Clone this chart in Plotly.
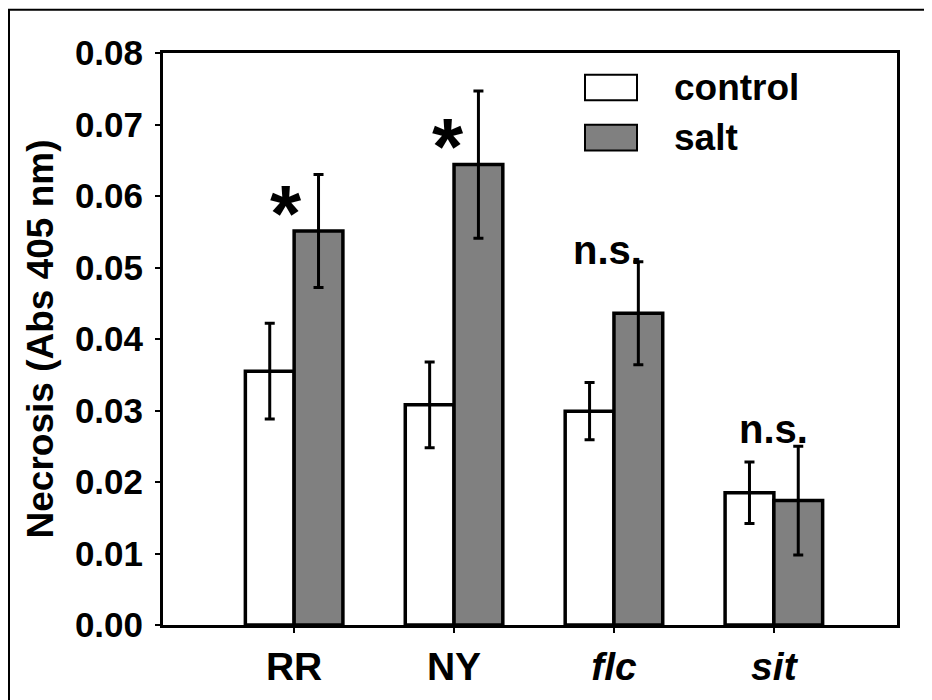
import plotly.graph_objects as go

categories = ["RR", "NY", "flc", "sit"]
tick_labels = ["<b>RR</b>", "<b>NY</b>", "<b><i>flc</i></b>", "<b><i>sit</i></b>"]
series_names = ["control", "salt"]
control_vals = [0.0355, 0.0308, 0.0299, 0.0185]
control_err = [0.0067, 0.0060, 0.0040, 0.0043]
salt_vals = [0.0551, 0.0644, 0.0436, 0.0174]
salt_err = [0.0079, 0.0103, 0.0072, 0.0076]
sig_labels = ["*", "*", "n.s.", "n.s."]
y_ticks = [0.00, 0.01, 0.02, 0.03, 0.04, 0.05, 0.06, 0.07, 0.08]

FONT = "Liberation Sans, Arial, sans-serif"
colors = ["#ffffff", "#808080"]

# figure sized to sit inside the page body margin (8px)
FW, FH = 924, 692
L, T, W, H = 155, 45, 734, 581

fig = go.Figure()
for name, vals, errs, col in [(series_names[0], control_vals, control_err, colors[0]),
                              (series_names[1], salt_vals, salt_err, colors[1])]:
    fig.add_trace(go.Bar(
        name=name, x=categories, y=vals,
        marker=dict(color=col, line=dict(color="black", width=3.5)),
        error_y=dict(type="data", array=errs, visible=True, color="black",
                     thickness=3, width=5),
        showlegend=False,
    ))

# significance labels
sig_xshift = [-8, -6, -6, 0]
sig_yshift = [18, 18, 12, 17]
for i, (cat, lab) in enumerate(zip(categories, sig_labels)):
    if lab == "*":
        fig.add_annotation(x=cat, y=salt_vals[i], xref="x", yref="y", text="<b>*</b>",
                           showarrow=False, xshift=sig_xshift[i], yshift=sig_yshift[i],
                           font=dict(family=FONT, size=80, color="black"))
    else:
        top = max(salt_vals[i] + salt_err[i], control_vals[i] + control_err[i])
        fig.add_annotation(x=cat, y=top, xref="x", yref="y", text="<b>n.s.</b>",
                           showarrow=False, xshift=sig_xshift[i], yshift=sig_yshift[i],
                           font=dict(family=FONT, size=40, color="black"))

def px2paper(px, py):
    # px, py are page coordinates; figure starts at page (8, 8)
    fx, fy = px - 8, py - 8
    return (fx - L) / W, (T + H - fy) / H

# custom legend (boxes + labels)
for j, (name, col) in enumerate(zip(series_names, colors)):
    y0 = 75 + j * 51
    x0p, y0p = px2paper(585, y0)
    x1p, y1p = px2paper(637, y0 + 26)
    fig.add_shape(type="rect", xref="paper", yref="paper", x0=x0p, x1=x1p, y0=y1p, y1=y0p,
                  fillcolor=col, line=dict(color="black", width=2))
    tx, ty = px2paper(672, y0 + 13)
    fig.add_annotation(x=tx, y=ty, xref="paper", yref="paper", text="<b>%s</b>" % name,
                       showarrow=False, xanchor="left", yanchor="middle",
                       font=dict(family=FONT, size=37, color="black"))

# outer border
bx0, by0 = px2paper(9, 9)
bx1, by1 = px2paper(929, 720)
fig.add_shape(type="rect", xref="paper", yref="paper", x0=bx0, x1=bx1, y0=by1, y1=by0,
              line=dict(color="black", width=2), fillcolor="rgba(0,0,0,0)")

fig.update_layout(
    width=FW, height=FH,
    margin=dict(l=L, r=FW - L - W, t=T, b=FH - T - H),
    paper_bgcolor="white", plot_bgcolor="white",
    barmode="group", bargap=0.39, bargroupgap=0,
    font=dict(family=FONT, color="black"),
)
fig.update_xaxes(
    range=[-0.82, 3.77],
    tickmode="array", tickvals=categories, ticktext=tick_labels,
    tickfont=dict(family=FONT, size=39, color="black"),
    showline=True, linecolor="black", linewidth=3, mirror=True,
    ticks="outside", ticklen=5, tickwidth=2, tickcolor="black",
    showgrid=False, zeroline=False,
)
fig.update_yaxes(
    range=[0, 0.08], tickmode="array", tickvals=y_ticks,
    ticktext=["<b>%.2f</b>" % v for v in y_ticks],
    tickfont=dict(family=FONT, size=35, color="black"),
    ticklabelstandoff=5,
    showline=True, linecolor="black", linewidth=3, mirror=True,
    ticks="outside", ticklen=5, tickwidth=2, tickcolor="black",
    showgrid=False, zeroline=False,
    title=dict(text="<b>Necrosis (Abs 405 nm)</b>", font=dict(family=FONT, size=37, color="black"),
               standoff=10),
)

fig.write_html("out.html")
